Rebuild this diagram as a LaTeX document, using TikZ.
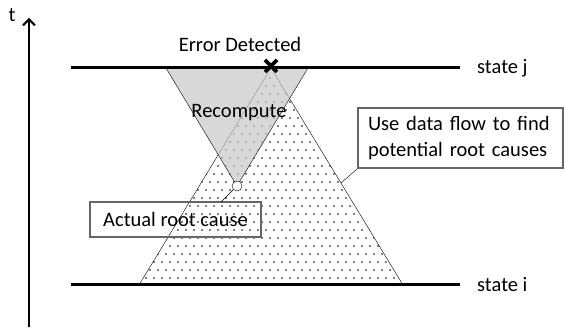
\documentclass[tikz,border=0pt]{standalone}
\usepackage{fontspec}
\setmainfont{Carlito}
\usetikzlibrary{arrows.meta,patterns,positioning,calc}
\pgfdeclarepatternformonly{sparsedots}{\pgfqpoint{-1pt}{-1pt}}{\pgfqpoint{9pt}{17pt}}{\pgfqpoint{8pt}{16pt}}{%
  \pgfpathcircle{\pgfqpoint{2pt}{2pt}}{0.8pt}%
  \pgfpathcircle{\pgfqpoint{6pt}{10pt}}{0.8pt}%
  \pgfusepath{fill}}

\begin{document}
\begin{tikzpicture}[x=1pt,y=-1pt,font=\fontsize{20.5}{26}\selectfont,
  statelabel/.style={anchor=west,inner sep=0pt},
  callout/.style={draw=black!60,line width=1.3pt,inner sep=0pt},
  stateline/.style={line width=3pt}]
\useasboundingbox (0,0) rectangle (565,328);
% time axis
\coordinate (t0) at (29,327);
\coordinate (t1) at (29,18);
\draw[line width=1.2pt,-{Straight Barb[length=6pt,width=12pt,line width=2pt 0 1]}] (t0) -- (t1);
\node (tlab) at (12,15) {t};
% data flow cone and recompute cone
\coordinate (apex) at (271,68);
\coordinate (bl) at (139,285);
\coordinate (br) at (403,285);
\coordinate (gl) at (166,68);
\coordinate (gr) at (308,68);
\coordinate (root) at (237,186);
\draw[pattern=sparsedots] (apex) -- (bl) -- (br) -- cycle;
\draw[fill=black!21,fill opacity=0.72] (gl) -- (gr) -- (root) -- cycle;
% states
\foreach \s/\y in {j/68,i/285} {
  \coordinate (\s l) at (71,\y);
  \coordinate (\s r) at (460,\y);
  \draw[stateline] (\s l) -- (\s r);
  \node[statelabel] (state\s) at (477,\y) {state \s};
}
% error and root cause
\draw[line width=3.6pt] (265,60) -- (277,72) (277,60) -- (265,72);
\node (err) at (240,44) {Error Detected};
\node (recomp) at (239,113) {Recompute};
\node[draw,circle,fill=white,inner sep=0pt,minimum size=10pt] (cause) at (root) {};
\node[callout,minimum width=171pt,minimum height=35pt] (rootbox) at (175.5,219.5) {Actual root cause};
\coordinate (rc) at (221,202);
\draw (cause) -- (rc);
\node[callout,minimum width=205pt,minimum height=60pt,text width=185pt,align=left,inner xsep=10pt] (flow) at (460.5,138)
  {Use data flow to find\\potential root causes};
\draw (flow.south west) -- ($(apex)!0.53!(br)$);
\end{tikzpicture}
\end{document}
